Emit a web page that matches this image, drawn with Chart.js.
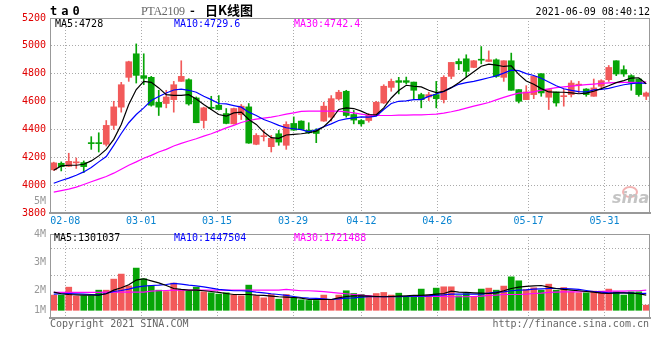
<!DOCTYPE html>
<html>
<head>
<meta charset="utf-8">
<script src="https://cdn.jsdelivr.net/npm/chart.js@4.4.1/dist/chart.umd.min.js"></script>
<style>
  body { margin: 0; background: #fff; }
  #wrap { position: relative; width: 660px; height: 360px; overflow: hidden;
          font-family: 'DejaVu Sans Mono', monospace; font-size: 10px; line-height: 12px; }
  #wrap canvas { position: absolute; left: 0; }
  .t { position: absolute; white-space: nowrap; }
</style>
</head>
<body>
<div id="wrap">
  <canvas id="kChart" width="660" height="232" style="top:0"></canvas>
  <canvas id="volChart" width="660" height="100" style="top:222px"></canvas>

  <span class="t" style="left:50px;top:5px;font-weight:bold;font-size:12px;letter-spacing:4px">ta0</span>
  <span class="t" style="left:141px;top:5px;font-family:'Liberation Serif',serif;font-size:12px;letter-spacing:-0.3px;color:#666">PTA2109</span>
  <span class="t" style="left:190px;top:4px;font-family:'Noto Sans CJK SC',sans-serif;font-size:13px;font-weight:bold">-</span>
  <span class="t" style="left:205px;top:4px;font-family:'Noto Sans CJK SC',sans-serif;font-size:13px;font-weight:bold">日K线图</span>
  <span class="t" style="right:10px;top:6px;color:#000">2021-06-09 08:40:12</span>

  <span class="t" id="lgMa5" style="left:55px;top:18px;color:#000"></span>
  <span class="t" id="lgMa10" style="left:174px;top:18px;color:#0000ff"></span>
  <span class="t" id="lgMa30" style="left:294px;top:18px;color:#ff00ff"></span>

  <span class="t" id="lgVMa5" style="left:54px;top:232px;color:#000"></span>
  <span class="t" id="lgVMa10" style="left:174px;top:232px;color:#0000ff"></span>
  <span class="t" id="lgVMa30" style="left:294px;top:232px;color:#ff00ff"></span>

  <span class="t" style="right:614px;top:195px;color:#999">5M</span>

  <div style="position:absolute;left:622px;top:186px;width:12px;height:8px;border:2px solid #f2b3b3;border-radius:50%"></div>
  <span class="t" style="left:612px;top:189px;font-family:'DejaVu Sans',sans-serif;font-size:16px;line-height:18px;font-weight:bold;font-style:italic;color:#c4c4c4">sina</span>

  <span class="t" style="left:50px;top:318px;color:#666">Copyright 2021 SINA.COM</span>
  <span class="t" style="right:11px;top:318px;color:#666">http://finance.sina.com.cn</span>
</div>

<script>
const dates = [
  '02-04','02-05','02-08','02-09','02-10','02-18','02-19','02-22','02-23','02-24','02-25','02-26',
  '03-01','03-02','03-03','03-04','03-05','03-08','03-09','03-10','03-11','03-12',
  '03-15','03-16','03-17','03-18','03-19','03-22','03-23','03-24','03-25','03-26',
  '03-29','03-30','03-31','04-01','04-02','04-06','04-07','04-08','04-09',
  '04-12','04-13','04-14','04-15','04-16','04-19','04-20','04-21','04-22','04-23',
  '04-26','04-27','04-28','04-29','04-30','05-06','05-07','05-10','05-11','05-12','05-13','05-14',
  '05-17','05-18','05-19','05-20','05-21','05-24','05-25','05-26','05-27','05-28',
  '05-31','06-01','06-02','06-03','06-04','06-07','06-08'
];
const tickDates = ['02-08','03-01','03-15','03-29','04-12','04-26','05-17','05-31'];

const open = [
  4110,4157,4135,4160,4162,4302,4302,4293,4429,4560,4774,4943,4786,4774,4595,4586,4614,4745,4757,4626,
  4464,4558,4574,4514,4440,4507,4562,4293,4348,4276,4369,4286,4443,4460,4395,4395,4460,4488,4619,4674,
  4507,4464,4464,4507,4590,4702,4750,4750,4740,4650,4633,4650,4614,4781,4888,4907,4845,4902,4888,4900,
  4774,4893,4686,4614,4650,4800,4631,4669,4635,4650,4718,4690,4638,4710,4757,4893,4829,4786,4762,4638
];
const high = [
  4165,4167,4229,4195,4174,4348,4376,4464,4602,4738,4890,5014,4943,4781,4681,4681,4745,4893,4764,4633,
  4560,4638,4643,4550,4553,4579,4586,4370,4395,4357,4393,4455,4490,4462,4448,4405,4595,4643,4681,4681,
  4536,4471,4514,4602,4721,4762,4774,4776,4740,4660,4667,4745,4786,4881,4907,4936,4895,4995,4964,4907,
  4893,4948,4686,4714,4781,4800,4686,4669,4690,4750,4745,4693,4762,4757,4859,4893,4857,4793,4762,4669
];
const low = [
  4105,4102,4133,4120,4090,4257,4238,4281,4400,4524,4745,4733,4721,4567,4500,4555,4524,4745,4574,4448,
  4410,4543,4540,4440,4438,4471,4300,4290,4317,4238,4286,4257,4393,4398,4371,4305,4458,4460,4610,4488,
  4440,4424,4452,4500,4586,4674,4655,4726,4621,4555,4607,4555,4590,4764,4829,4776,4843,4871,4888,4774,
  4745,4681,4590,4614,4621,4638,4543,4567,4567,4633,4662,4638,4638,4698,4745,4786,4781,4681,4638,4614
];
const close = [
  4160,4133,4171,4166,4133,4298,4298,4429,4562,4721,4886,4788,4767,4574,4560,4633,4721,4781,4583,4448,
  4555,4552,4543,4443,4550,4567,4302,4357,4354,4336,4309,4436,4395,4400,4376,4371,4567,4621,4667,4500,
  4467,4440,4507,4595,4710,4745,4738,4738,4681,4614,4650,4621,4774,4881,4871,4817,4893,4897,4900,4781,
  4893,4681,4602,4669,4781,4662,4686,4590,4640,4733,4724,4650,4698,4750,4845,4798,4798,4733,4650,4662
];

const ma5 = [
  4107,4138,4143,4143,4150,4174,4210,4257,4329,4436,4579,4686,4745,4738,4698,4650,4645,4645,4650,4619,
  4579,4543,4507,4495,4519,4524,4471,4436,4381,4341,4336,4360,4364,4369,4376,4388,4419,4471,4543,4555,
  4550,4531,4507,4505,4555,4626,4679,4717,4710,4705,4681,4665,4673,4700,4735,4775,4814,4854,4869,4861,
  4852,4857,4795,4748,4724,4693,4669,4667,4667,4662,4656,4661,4674,4693,4714,4736,4750,4769,4771,4728
];
const ma10 = [
  4014,4033,4050,4071,4095,4126,4167,4205,4286,4371,4448,4507,4555,4607,4636,4662,4683,4690,4681,4667,
  4638,4614,4586,4583,4571,4560,4524,4500,4471,4452,4429,4412,4405,4398,4383,4398,4419,4440,4464,4476,
  4483,4490,4488,4495,4543,4586,4602,4605,4614,4614,4637,4654,4673,4700,4724,4736,4745,4758,4771,4785,
  4804,4826,4822,4801,4787,4767,4741,4714,4692,4681,4671,4669,4684,4688,4695,4708,4721,4729,4734,4729.6
];
const ma30 = [
  3950,3960,3971,3986,4005,4024,4043,4062,4086,4114,4143,4167,4193,4214,4238,4257,4281,4300,4317,4333,
  4352,4369,4390,4411,4429,4450,4464,4474,4481,4488,4498,4510,4519,4529,4531,4531,4531,4531,4531,4526,
  4519,4510,4502,4500,4500,4500,4502,4502,4505,4505,4507,4510,4517,4527,4539,4553,4567,4580,4593,4612,
  4630,4646,4660,4664,4670,4682,4691,4700,4706,4711,4716,4721,4725,4730,4734,4736,4738,4738,4737,4742.4
];

// volume in millions of lots
const volume = [
  1.31,1.31,1.97,1.22,1.25,1.25,1.72,1.72,2.64,3.06,2.08,3.56,2.67,2.08,1.72,1.61,2.31,1.78,1.67,1.97,
  1.58,1.50,1.39,1.50,1.31,1.25,2.14,1.25,1.08,1.36,0.97,1.36,1.11,0.92,0.86,0.86,1.31,0.95,1.31,1.67,
  1.44,1.36,1.25,1.44,1.53,1.31,1.47,1.17,1.17,1.81,1.31,1.89,2.00,2.00,1.25,1.44,1.17,1.81,1.89,1.72,
  2.06,2.83,2.50,1.78,1.92,1.72,2.22,1.72,1.94,1.58,1.50,1.50,1.64,1.64,1.81,1.58,1.31,1.58,1.58,0.47
];
const volMa5 = [
  1.56,1.42,1.36,1.33,1.31,1.31,1.31,1.42,1.72,1.92,2.17,2.56,2.67,2.50,2.33,2.11,1.86,1.78,1.72,1.72,
  1.67,1.61,1.53,1.44,1.36,1.36,1.36,1.31,1.28,1.22,1.17,1.14,1.11,1.06,0.94,0.94,0.94,0.94,1.08,1.19,
  1.25,1.25,1.22,1.19,1.17,1.19,1.22,1.25,1.28,1.28,1.33,1.39,1.44,1.64,1.56,1.53,1.50,1.47,1.44,1.50,
  1.67,1.86,1.97,2.03,2.08,2.11,1.97,1.86,1.78,1.72,1.67,1.61,1.56,1.47,1.44,1.50,1.50,1.47,1.42,1.301037
];
const volMa10 = [
  1.39,1.42,1.44,1.42,1.39,1.36,1.33,1.44,1.61,1.69,1.81,1.97,2.06,2.11,2.14,2.19,2.28,2.22,2.14,2.08,
  2.00,1.89,1.78,1.72,1.67,1.67,1.64,1.56,1.50,1.42,1.36,1.28,1.19,1.11,1.06,1.03,1.00,0.94,1.00,1.06,
  1.08,1.14,1.17,1.17,1.17,1.17,1.17,1.19,1.22,1.22,1.25,1.31,1.33,1.39,1.39,1.39,1.39,1.39,1.47,1.56,
  1.58,1.67,1.72,1.75,1.81,1.83,1.86,1.86,1.86,1.83,1.78,1.69,1.61,1.56,1.50,1.50,1.50,1.47,1.44,1.447504
];
const volMa30 = [
  1.53,1.53,1.53,1.53,1.53,1.53,1.53,1.56,1.56,1.56,1.56,1.56,1.56,1.64,1.67,1.69,1.72,1.72,1.72,1.72,
  1.72,1.72,1.72,1.72,1.72,1.72,1.72,1.72,1.72,1.72,1.72,1.78,1.72,1.67,1.67,1.64,1.60,1.53,1.47,1.42,
  1.36,1.31,1.25,1.19,1.19,1.19,1.19,1.19,1.19,1.19,1.19,1.19,1.19,1.17,1.17,1.17,1.19,1.22,1.28,1.31,
  1.36,1.36,1.36,1.39,1.44,1.47,1.53,1.56,1.58,1.58,1.58,1.61,1.61,1.61,1.64,1.64,1.64,1.67,1.67,1.721488
];
const volTickLabels = ['4M', '3M', '2M', '1M'];

const RED = '#f25a5a';
const GREEN = '#07a507';
const monoFont = { family: 'DejaVu Sans Mono', size: 10 };
const candleColors = close.map((c, i) => (c >= open[i] ? RED : GREEN));
const last = a => a[a.length - 1];

// gray box around the plot area, like the sina frame
const frame = {
  id: 'frame',
  afterDraw(chart) {
    const { ctx, chartArea: a } = chart;
    ctx.save();
    ctx.strokeStyle = '#999';
    ctx.lineWidth = 1;
    ctx.strokeRect(a.left + 0.5, a.top + 0.5, a.right - a.left - 1, a.bottom - a.top - 1);
    ctx.restore();
  }
};

function maLine(data, color) {
  return {
    type: 'line', data, borderColor: color, borderWidth: 1.2,
    pointRadius: 0, tension: 0, order: 1, xAxisID: 'x', yAxisID: 'y'
  };
}

// fixed left gutter, and no extra room reserved for half tick labels
function fixLeft(s) {
  s.width = 50;
  s.paddingTop = 0;
  s.paddingBottom = 0;
}

// date grid axis shared by both panels
function dateAxis(showLabels, height) {
  return {
    type: 'linear', position: 'bottom', min: 0, max: dates.length - 1,
    offset: false,
    afterBuildTicks: s => { s.ticks = tickDates.map(d => ({ value: dates.indexOf(d) })); },
    afterFit: s => { s.height = height; s.paddingLeft = 0; s.paddingRight = 0; },
    grid: { color: '#aaa', drawTicks: false, offset: false },
    border: { color: '#999', width: 2, dash: [1, 2] },
    ticks: {
      display: showLabels, autoSkip: false, maxRotation: 0, padding: 2,
      color: '#0a84d0', font: monoFont, callback: v => dates[v]
    }
  };
}

new Chart(document.getElementById('kChart'), {
  type: 'bar',
  data: {
    labels: dates,
    datasets: [
      maLine(ma5, '#000000'),
      maLine(ma10, '#0000ff'),
      maLine(ma30, '#ff00ff'),
      {
        label: 'body', data: open.map((o, i) => [o, close[i]]),
        backgroundColor: candleColors, barThickness: 6, minBarLength: 1,
        grouped: false, order: 2, xAxisID: 'x', yAxisID: 'y'
      },
      {
        label: 'wick', data: low.map((l, i) => [l, high[i]]),
        backgroundColor: candleColors, barThickness: 1,
        grouped: false, order: 3, xAxisID: 'x', yAxisID: 'y'
      }
    ]
  },
  options: {
    responsive: false,
    animation: false,
    layout: { padding: { top: 18, right: 10, left: 0, bottom: 0 } },
    plugins: { legend: { display: false }, tooltip: { enabled: false } },
    scales: {
      x: { type: 'category', display: false, offset: true },
      xg: dateAxis(true, 19),
      y: {
        min: 3800, max: 5200,
        afterFit: fixLeft,
        grid: { color: '#aaa', drawTicks: false },
        border: { color: '#999', dash: [1, 2] },
        ticks: { stepSize: 200, color: '#e00000', font: monoFont, padding: 4, callback: v => String(v) }
      }
    }
  },
  plugins: [frame]
});

new Chart(document.getElementById('volChart'), {
  type: 'bar',
  data: {
    labels: dates,
    datasets: [
      maLine(volMa5, '#000000'),
      maLine(volMa10, '#0000ff'),
      maLine(volMa30, '#ff00ff'),
      {
        label: 'volume', data: volume, backgroundColor: candleColors,
        barThickness: 6, order: 2, xAxisID: 'x', yAxisID: 'y'
      }
    ]
  },
  options: {
    responsive: false,
    animation: false,
    layout: { padding: { top: 12, right: 10, left: 0, bottom: 0 } },
    plugins: { legend: { display: false }, tooltip: { enabled: false } },
    scales: {
      x: { type: 'category', display: false, offset: true },
      xg: dateAxis(false, 4),
      y: {
        min: -0.6, max: 6.4,
        afterFit: fixLeft,
        afterBuildTicks: s => {
          const span = s.max - s.min;
          const gridTicks = [1, 3, 5].map(k => ({ value: s.max - span * k / 6, grid: true }));
          const labelTicks = volTickLabels.map((t, k) => ({
            value: k < 3 ? s.max - span * k / 3 : 0, text: t
          }));
          s.ticks = gridTicks.concat(labelTicks);
        },
        grid: { color: c => (c.tick && c.tick.grid ? '#aaa' : 'rgba(0,0,0,0)'), drawTicks: false },
        border: { color: '#999', dash: [1, 2] },
        ticks: {
          color: '#999', font: monoFont, padding: 4, autoSkip: false,
          callback: (v, i, ticks) => ticks[i].text || ''
        }
      }
    }
  },
  plugins: [frame]
});

document.getElementById('lgMa5').textContent = 'MA5:' + last(ma5);
document.getElementById('lgMa10').textContent = 'MA10:' + last(ma10);
document.getElementById('lgMa30').textContent = 'MA30:' + last(ma30);
document.getElementById('lgVMa5').textContent = 'MA5:' + Math.round(last(volMa5) * 1e6);
document.getElementById('lgVMa10').textContent = 'MA10:' + Math.round(last(volMa10) * 1e6);
document.getElementById('lgVMa30').textContent = 'MA30:' + Math.round(last(volMa30) * 1e6);
</script>
</body>
</html>
